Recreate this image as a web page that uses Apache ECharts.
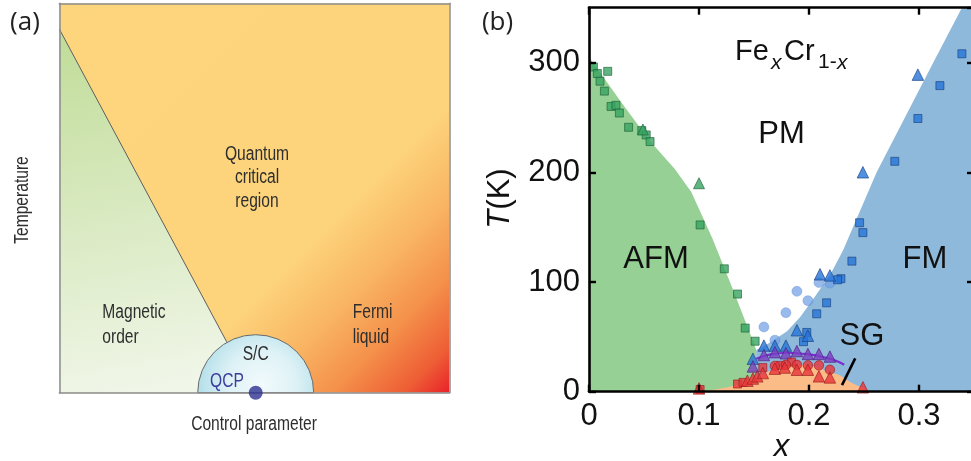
<!DOCTYPE html>
<html>
<head>
<meta charset="utf-8">
<script src="https://cdn.jsdelivr.net/npm/echarts@6/dist/echarts.min.js"></script>
<style>
  html, body { margin: 0; padding: 0; background: #fff; }
  #chart { width: 971px; height: 461px; }
</style>
</head>
<body>
<div id="chart"></div>
<script>
// ---------- Panel (a): generic quantum-critical schematic (unit square) ----------
const schemeBox   = [[0, 1], [1, 1]];
const orderEdge   = [[0, 0.934], [0.429, 0.131], [0.499, 0]];
const scDome      = [[0.5036, 0, 0.1487]];          // centre x, centre y, radius
const qcpPoint    = [[0.5036, 0]];

// ---------- Panel (b): FexCr1-x phase diagram (x, T in K) ----------
const xTicks = [0, 0.1, 0.2, 0.3];
const tTicks = [0, 100, 200, 300];

const afmEdge = [[0, 305], [0.03, 263], [0.055, 229], [0.078, 203], [0.093, 182],
                 [0.112, 140], [0.131, 93], [0.143, 62], [0.15, 44], [0.152, 38], [0.152, 0]];
const fmEdge  = [[0.152, 0], [0.152, 38], [0.165, 45], [0.18, 55], [0.192, 68], [0.205, 86],
                 [0.22, 108], [0.231, 129], [0.2615, 200], [0.313, 300], [0.339, 350], [0.35, 350]];
const sgDome  = [[0.1, 0], [0.115, 2], [0.13, 5], [0.145, 10], [0.16, 17], [0.175, 23],
                 [0.19, 25], [0.205, 23], [0.218, 18], [0.228, 15], [0.237, 9], [0.246, 4.5], [0.256, 0]];
const sgLine  = [[0.152, 30], [0.165, 34], [0.18, 35.5], [0.2, 34], [0.215, 31], [0.225, 28], [0.232, 24.5]];
const sgPointer = [[0.242, 30.4], [0.230, 6]];

const afmSquares = [[0.004, 296], [0.0076, 290], [0.010, 283], [0.014, 274], [0.017, 292],
                    [0.020, 260], [0.0245, 261], [0.0276, 254], [0.036, 241], [0.048, 238],
                    [0.052, 234], [0.0555, 228], [0.101, 152], [0.123, 112], [0.135, 89],
                    [0.142, 58], [0.151, 46]];
const afmTriangles = [[0.049, 239], [0.1, 190]];

const fmSquares = [[0.339, 308], [0.319, 279], [0.299, 249], [0.278, 210], [0.246, 154],
                   [0.249, 145], [0.239, 119], [0.229, 103], [0.226, 102], [0.216, 81],
                   [0.207, 71], [0.198, 54], [0.195, 45.6]];
const fmTriangles = [[0.299, 289], [0.249, 200], [0.21, 107], [0.219, 106], [0.189, 56],
                     [0.199, 51], [0.159, 42], [0.169, 42], [0.179, 42], [0.149, 30]];
const fmCircles = [[0.159, 59], [0.169, 47], [0.179, 72], [0.189, 91.5], [0.199, 83],
                   [0.209, 99.5], [0.219, 99]];

const purpleTriangles = [[0.149, 23], [0.159, 33.4], [0.169, 36], [0.179, 35], [0.189, 37],
                         [0.199, 34.4], [0.209, 34.4], [0.219, 32]];

const redSquares = [[0.101, 2], [0.135, 7], [0.140, 8.5], [0.158, 22], [0.174, 24], [0.184, 27]];
const redTriangles = [[0.1, 3], [0.144, 10], [0.149, 12], [0.153, 14], [0.158, 17], [0.169, 21],
                      [0.178, 22], [0.189, 20], [0.199, 20], [0.209, 14], [0.219, 13], [0.249, 4]];
const redCircles = [[0.169, 23.5], [0.179, 24.5], [0.189, 24.5], [0.199, 24], [0.209, 24], [0.219, 20]];

// ---------- styles ----------
const SANS = "'Liberation Sans', Arial, Helvetica, sans-serif";
const TAG  = "'Open Sans', 'Noto Sans', sans-serif";
const INK  = '#111';
const SCH  = '#2e2e2e';

const chart = echarts.init(document.getElementById('chart'), null, { renderer: 'canvas' });

function frameAxis(grid, position, opts) {
  return Object.assign({
    type: 'value', gridIndex: grid, position: position, z: 10,
    axisLine: { show: true, onZero: false, lineStyle: { color: '#8c8c8c', width: 1.5 } },
    axisTick: { show: false }, axisLabel: { show: false }, splitLine: { show: false }
  }, opts || {});
}
function dataAxis(position, range, labelled) {
  return {
    type: 'value', gridIndex: 1, position: position, z: 10,
    min: range[0], max: range[1], interval: range[2],
    axisLine: { show: true, onZero: false, lineStyle: { color: '#000', width: 2.6 } },
    axisTick: { show: true, inside: true, length: 7, lineStyle: { color: '#000', width: 2.4 } },
    axisLabel: labelled ? {
      show: true, margin: 9, fontSize: 31, fontFamily: SANS, color: INK,
      showMaxLabel: false, formatter: v => (v === 0 ? '0' : String(Math.round(v * 100) / 100))
    } : { show: false },
    splitLine: { show: false }
  };
}

function schemeText(t, x, y, align, color, rot) {
  return {
    type: 'text', x: x, y: y, scaleX: 0.78, rotation: rot || 0, z: 100,
    style: { text: t, fontFamily: SANS, fontSize: 20, fill: color || SCH,
             align: align || 'center', verticalAlign: 'middle' }
  };
}
function bigText(t, x, y, size, opts) {
  return Object.assign({
    type: 'text', x: x, y: y, z: 100,
    style: { text: t, fontFamily: SANS, fontSize: size || 31, fill: INK,
             align: 'center', verticalAlign: 'middle' }
  }, opts || {});
}

const option = {
  animation: false,
  backgroundColor: '#fff',
  grid: [
    { left: 59.3, top: 3.3, width: 390, height: 389.4, outerBoundsMode: 'none', containLabel: false },
    { left: 589, top: 7.7, width: 385, height: 384, outerBoundsMode: 'none', containLabel: false }
  ],
  xAxis: [
    frameAxis(0, 'bottom', { min: 0, max: 1 }),
    frameAxis(0, 'top', { min: 0, max: 1 }),
    dataAxis('bottom', [0, 0.35, 0.1], true),
    dataAxis('top', [0, 0.35, 0.1], false)
  ],
  yAxis: [
    frameAxis(0, 'left', { min: 0, max: 1 }),
    frameAxis(0, 'right', { min: 0, max: 1 }),
    dataAxis('left', [0, 350, 100], true),
    dataAxis('right', [0, 350, 100], false)
  ],
  series: [
    // ---- panel (a) ----
    {
      type: 'line', xAxisIndex: 0, yAxisIndex: 0, data: schemeBox, symbol: 'none', z: 1,
      lineStyle: { width: 0 }, silent: true,
      areaStyle: {
        opacity: 1,
        color: { type: 'linear', x: 0, y: 0, x2: 1, y2: 1, colorStops: [
          { offset: 0, color: '#fdd57d' }, { offset: 0.63, color: '#fdd47b' },
          { offset: 0.75, color: '#f9b564' }, { offset: 0.85, color: '#f4904a' },
          { offset: 0.94, color: '#ee5e35' }, { offset: 1, color: '#e8222a' }
        ] }
      }
    },
    {
      type: 'line', xAxisIndex: 0, yAxisIndex: 0, data: orderEdge, symbol: 'none', z: 2,
      lineStyle: { color: '#5e5e5e', width: 1 }, silent: true,
      areaStyle: {
        opacity: 1,
        color: { type: 'linear', x: 0, y: 0, x2: 0.35, y2: 1, colorStops: [
          { offset: 0, color: '#c0dc97' }, { offset: 1, color: '#f0f6e8' }
        ] }
      }
    },
    {
      type: 'custom', xAxisIndex: 0, yAxisIndex: 0, data: scDome, z: 3, silent: true,
      renderItem: function (params, api) {
        const c = api.coord([api.value(0), api.value(1)]);
        const r = api.size([api.value(2), 0])[0];
        return {
          type: 'sector',
          shape: { cx: c[0], cy: c[1], r0: 0, r: r, startAngle: Math.PI, endAngle: 2 * Math.PI, clockwise: true },
          style: {
            fill: { type: 'radial', x: 0.55, y: 0.85, r: 1.05, colorStops: [
              { offset: 0, color: '#f2fafc' }, { offset: 0.55, color: '#def2f6' }, { offset: 1, color: '#b6e0ea' }
            ] },
            stroke: '#6a6a6a', lineWidth: 1
          }
        };
      }
    },
    {
      type: 'scatter', xAxisIndex: 0, yAxisIndex: 0, data: qcpPoint, z: 12, silent: true,
      symbol: 'circle', symbolSize: 14, itemStyle: { color: '#2d3190' }
    },

    // ---- panel (b): phase regions ----
    {
      type: 'line', xAxisIndex: 2, yAxisIndex: 2, data: afmEdge, symbol: 'none', z: 1, silent: true,
      lineStyle: { width: 0 }, areaStyle: { color: '#96d095', opacity: 1 }
    },
    {
      type: 'line', xAxisIndex: 2, yAxisIndex: 2, data: fmEdge, symbol: 'none', z: 1, silent: true,
      lineStyle: { width: 0 }, areaStyle: { color: '#8fb9da', opacity: 1 }
    },
    {
      type: 'line', xAxisIndex: 2, yAxisIndex: 2, data: sgDome, symbol: 'none', z: 2, silent: true,
      smooth: 0.3, lineStyle: { width: 0 }, areaStyle: { color: '#fcbc88', opacity: 1 }
    },
    {
      type: 'line', xAxisIndex: 2, yAxisIndex: 2, data: sgLine, symbol: 'none', z: 3, silent: true,
      smooth: 0.4, lineStyle: { color: '#7b2fd0', width: 2.2 }
    },
    {
      type: 'line', xAxisIndex: 2, yAxisIndex: 2, data: sgPointer, symbol: 'none', z: 3, silent: true,
      lineStyle: { color: '#000', width: 2.6 }
    },

    // ---- panel (b): measured transitions ----
    {
      type: 'scatter', xAxisIndex: 2, yAxisIndex: 2, data: afmSquares, z: 5, symbol: 'rect', symbolSize: 8,
      itemStyle: { color: '#37a462', borderColor: '#1d5e36', borderWidth: 0.8 }
    },
    {
      type: 'scatter', xAxisIndex: 2, yAxisIndex: 2, data: afmTriangles, z: 5, symbol: 'triangle', symbolSize: 11,
      itemStyle: { color: '#37a462', borderColor: '#1d5e36', borderWidth: 0.8 }
    },
    {
      type: 'scatter', xAxisIndex: 2, yAxisIndex: 2, data: fmCircles, z: 4, symbol: 'circle', symbolSize: 10,
      itemStyle: { color: 'rgba(112,160,230,0.9)', borderColor: 'rgba(85,130,205,0.7)', borderWidth: 0.6 }
    },
    {
      type: 'scatter', xAxisIndex: 2, yAxisIndex: 2, data: fmSquares, z: 5, symbol: 'rect', symbolSize: 8,
      itemStyle: { color: '#2674d8', borderColor: '#173f7c', borderWidth: 0.8 }
    },
    {
      type: 'scatter', xAxisIndex: 2, yAxisIndex: 2, data: fmTriangles, z: 5, symbol: 'triangle', symbolSize: 11.5,
      itemStyle: { color: '#2674d8', borderColor: '#173f7c', borderWidth: 0.8 }
    },
    {
      type: 'scatter', xAxisIndex: 2, yAxisIndex: 2, data: purpleTriangles, z: 5, symbol: 'triangle', symbolSize: 11.5,
      itemStyle: { color: '#7a3ec2', borderColor: '#45207a', borderWidth: 0.8 }
    },
    {
      type: 'scatter', xAxisIndex: 2, yAxisIndex: 2, data: redSquares, z: 5, symbol: 'rect', symbolSize: 8,
      itemStyle: { color: '#e8353a', borderColor: '#961a1c', borderWidth: 0.8 }
    },
    {
      type: 'scatter', xAxisIndex: 2, yAxisIndex: 2, data: redCircles, z: 5, symbol: 'circle', symbolSize: 9.5,
      itemStyle: { color: '#e8353a', borderColor: '#961a1c', borderWidth: 0.8 }
    },
    {
      type: 'scatter', xAxisIndex: 2, yAxisIndex: 2, data: redTriangles, z: 6, symbol: 'triangle', symbolSize: 11.5,
      itemStyle: { color: '#e8353a', borderColor: '#961a1c', borderWidth: 0.8 }
    }
  ],
  graphic: [
    // panel tags
    { type: 'text', x: 25, y: 23, z: 100, style: { text: '(a)', fontFamily: TAG, fontSize: 26, fill: '#222', align: 'center', verticalAlign: 'middle' } },
    { type: 'text', x: 497.5, y: 23, z: 100, style: { text: '(b)', fontFamily: TAG, fontSize: 26, fill: '#222', align: 'center', verticalAlign: 'middle' } },

    // panel (a) labels
    schemeText('Quantum', 257, 154),
    schemeText('critical', 257, 177.5),
    schemeText('region', 257, 201),
    schemeText('Magnetic', 102.3, 312.5, 'left'),
    schemeText('order', 102.3, 337, 'left'),
    schemeText('Fermi', 352.7, 312.5, 'left'),
    schemeText('liquid', 352.7, 337, 'left'),
    schemeText('S/C', 255.7, 354),
    schemeText('QCP', 227, 381, 'center', '#3a3e9c'),
    schemeText('Control parameter', 254, 424),
    schemeText('Temperature', 22.5, 200, 'center', SCH, Math.PI / 2),

    // panel (b) labels
    bigText('PM', 781.5, 134),
    bigText('AFM', 656, 259.5),
    bigText('FM', 925, 259.5),
    bigText('SG', 862, 336),
    { type: 'text', x: 735, y: 52, z: 100, style: { text: 'Fe', fontFamily: SANS, fontSize: 29, fill: INK, align: 'left', verticalAlign: 'middle' } },
    { type: 'text', x: 771, y: 63, z: 100, style: { text: 'x', fontFamily: SANS, fontStyle: 'italic', fontSize: 21, fill: INK, align: 'left', verticalAlign: 'middle' } },
    { type: 'text', x: 784, y: 52, z: 100, style: { text: 'Cr', fontFamily: SANS, fontSize: 29, fill: INK, align: 'left', verticalAlign: 'middle' } },
    { type: 'text', x: 818, y: 62, z: 100, style: { text: '1-', fontFamily: SANS, fontSize: 21, fill: INK, align: 'left', verticalAlign: 'middle' } },
    { type: 'text', x: 837, y: 63, z: 100, style: { text: 'x', fontFamily: SANS, fontStyle: 'italic', fontSize: 21, fill: INK, align: 'left', verticalAlign: 'middle' } },
    {
      type: 'text', x: 500, y: 198.5, rotation: Math.PI / 2, z: 100,
      style: {
        text: '{i|T}(K)', fontFamily: SANS, fontSize: 31, fill: INK, align: 'center', verticalAlign: 'middle',
        rich: { i: { fontFamily: SANS, fontStyle: 'italic', fontSize: 31, fill: INK } }
      }
    },
    { type: 'text', x: 781.5, y: 447, z: 100, style: { text: 'x', fontFamily: SANS, fontStyle: 'italic', fontSize: 31, fill: INK, align: 'center', verticalAlign: 'middle' } }
  ]
};

chart.setOption(option);
</script>
</body>
</html>
